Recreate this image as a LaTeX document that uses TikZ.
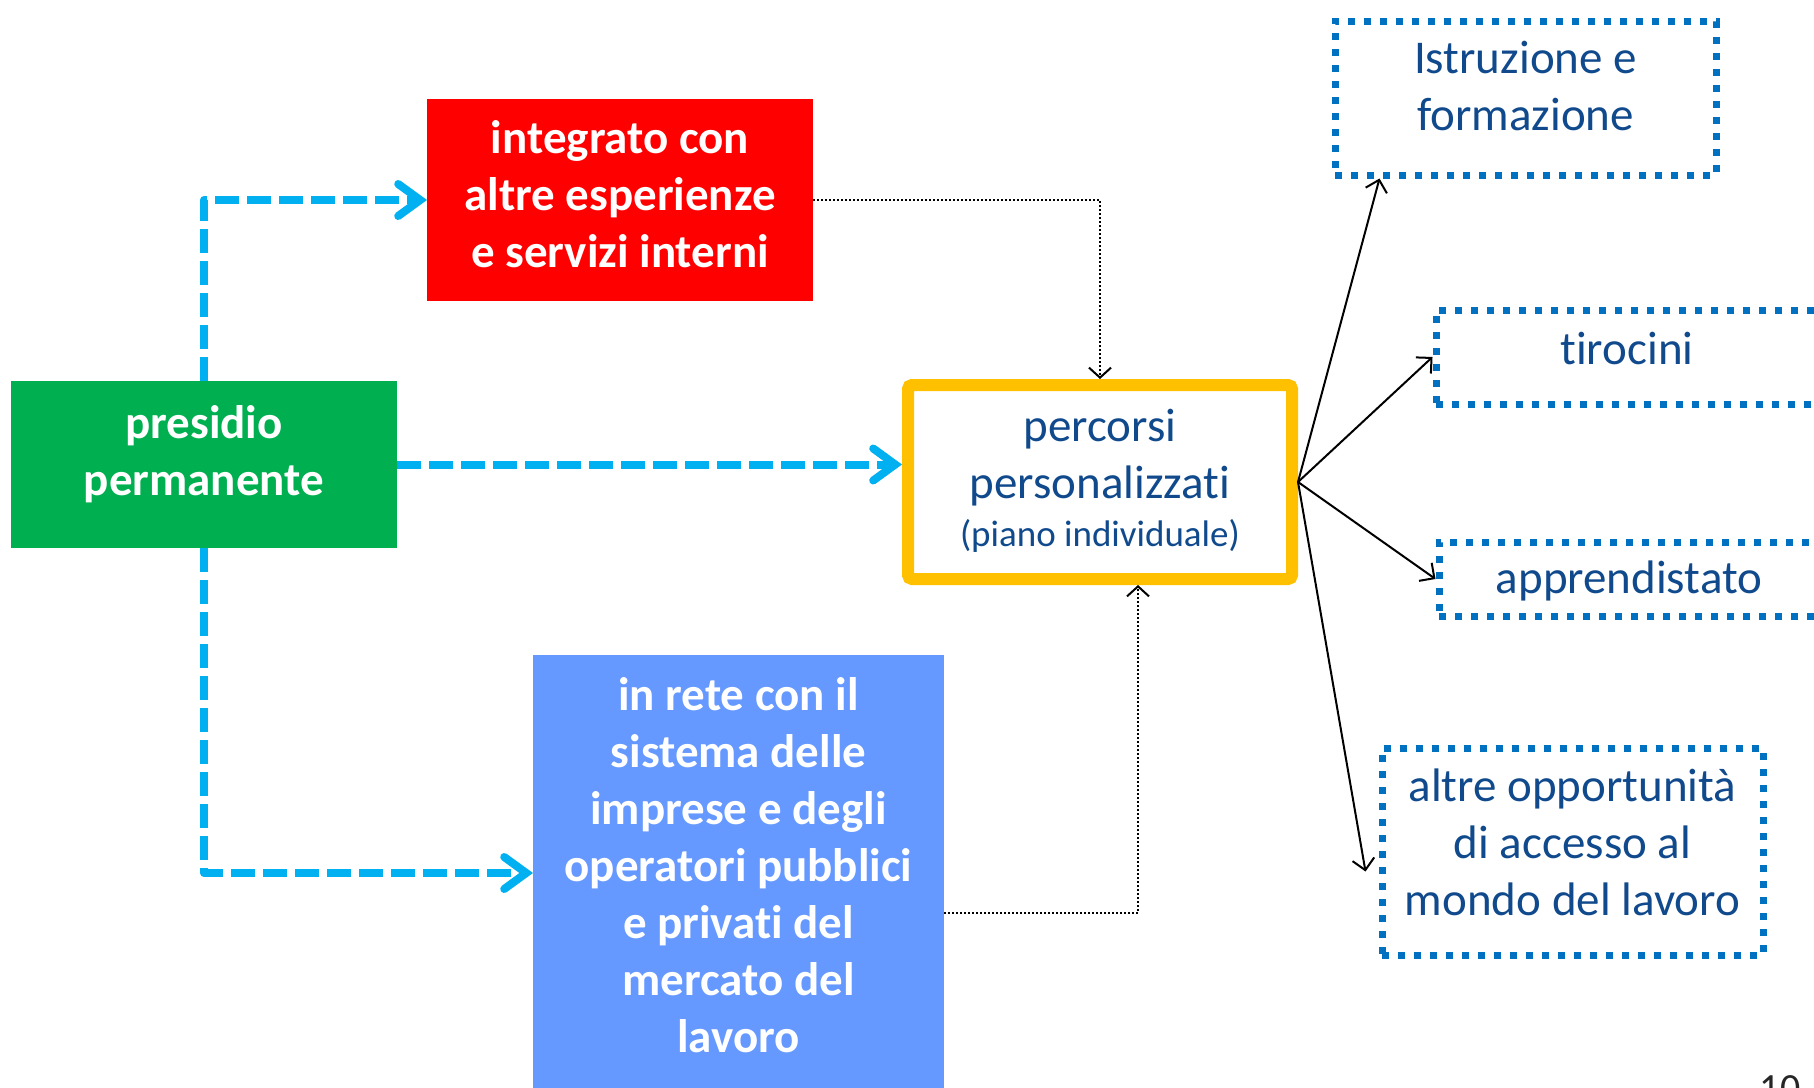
\documentclass[tikz,border=0pt]{standalone}
\usepackage{fontspec}
\setmainfont{Carlito}[Ligatures={TeX,NoCommon}]
\usetikzlibrary{arrows.meta}
\definecolor{gbox}{RGB}{0,176,80}
\definecolor{rbox}{RGB}{255,0,0}
\definecolor{bbox}{RGB}{102,153,255}
\definecolor{ybox}{RGB}{255,192,0}
\definecolor{cyanline}{RGB}{0,176,240}
\definecolor{dotblue}{RGB}{0,112,192}
\definecolor{txtblue}{RGB}{16,74,140}
\tikzset{
  solidbox/.style={rectangle, inner sep=0pt, outer sep=0pt},
  whitetext/.style={inner sep=0pt, text=white,
    font=\fontsize{47}{57}\selectfont\bfseries, align=center},
  bluetext/.style={inner sep=0pt, text=txtblue,
    font=\fontsize{47}{57}\selectfont, align=center},
  outbox/.style={rectangle, draw=dotblue, line width=7pt, dash pattern=on 7pt off 9pt, inner sep=0pt},
  flow/.style={draw=cyanline, line width=8pt, dash pattern=on 24pt off 8pt, line join=round,
    -{Straight Barb[length=22pt,width=32pt,line cap=round]}},
  link/.style={draw=black, line width=2pt, dash pattern=on 2pt off 2pt,
    -{Straight Barb[length=10pt,width=22pt]}},
  spoke/.style={draw=black, line width=2pt, -{Straight Barb[length=11pt,width=22pt]}},
}
\begin{document}
\begin{tikzpicture}[x=1pt,y=-1pt]
\useasboundingbox (0,0) rectangle (1814,1087);
% solid boxes
\node[solidbox, fill=gbox, minimum width=386pt, minimum height=167pt] (green) at (204,464.5) {};
\node[whitetext] (greentext) at (204,454.5) {presidio\\permanente};
\node[solidbox, fill=rbox, minimum width=386pt, minimum height=202pt] (red) at (620,200) {};
\node[whitetext] (redtext) at (620,194) {integrato con\\altre esperienze\\e servizi interni};
\node[solidbox, fill=bbox, minimum width=411pt, minimum height=436pt] (blue) at (738.5,873) {};
\node[whitetext] (bluetext) at (738.5,865)
  {in rete con il\\sistema delle\\imprese e degli\\operatori pubblici\\e privati del\\mercato del\\lavoro};
% central box
\node[rectangle, draw=ybox, line width=12pt, rounded corners=4pt, inner sep=0pt,
  minimum width=384pt, minimum height=194pt] (yellow) at (1100,482) {};
\node[bluetext] (yellowtext) at (1100,481)
  {percorsi\\personalizzati\\[-9pt]{\fontsize{37}{44}\selectfont(piano individuale)}};
% outcome boxes
\node[outbox, minimum width=381pt, minimum height=154pt] (istr) at (1525.5,98) {};
\node[bluetext] (istrtext) at (1525.5,86) {Istruzione e\\formazione};
\node[outbox, minimum width=382pt, minimum height=94pt] (tir) at (1627,357) {};
\node[bluetext] (tirtext) at (1627,348) {tirocini};
\node[outbox, minimum width=380pt, minimum height=74pt] (app) at (1629,579) {};
\node[bluetext] (apptext) at (1629,581) {apprendistato};
\node[outbox, minimum width=381pt, minimum height=207pt] (altre) at (1572.5,851.5) {};
\node[bluetext] (altretext) at (1572.5,842.5) {altre opportunità\\di accesso al\\mondo del lavoro};
% page number
\node[anchor=north, inner sep=0pt, text=black!85, font=\fontsize{40}{48}\selectfont] (pnum)
  at (1780,1075) {10};
% cyan dashed arrows
\draw[flow] (green.north) |- (red.west);
\draw[flow] (green.east) -- (green.east -| yellow.west);
\draw[flow] (green.south) |- (blue.west);
% dotted links
\draw[link] (red.east) -| (yellow.north);
\draw[link] ([yshift=-40pt]blue.east) -| ([xshift=38pt]yellow.south);
% spokes
\draw[spoke] (yellow.east) -- ([xshift=-146pt]istr.south);
\draw[spoke] (yellow.east) -- (tir.west);
\draw[spoke] (yellow.east) -- (app.west);
\draw[spoke] (yellow.east) -- ([xshift=-13pt,yshift=-20pt]altre.west);
\end{tikzpicture}
\end{document}
